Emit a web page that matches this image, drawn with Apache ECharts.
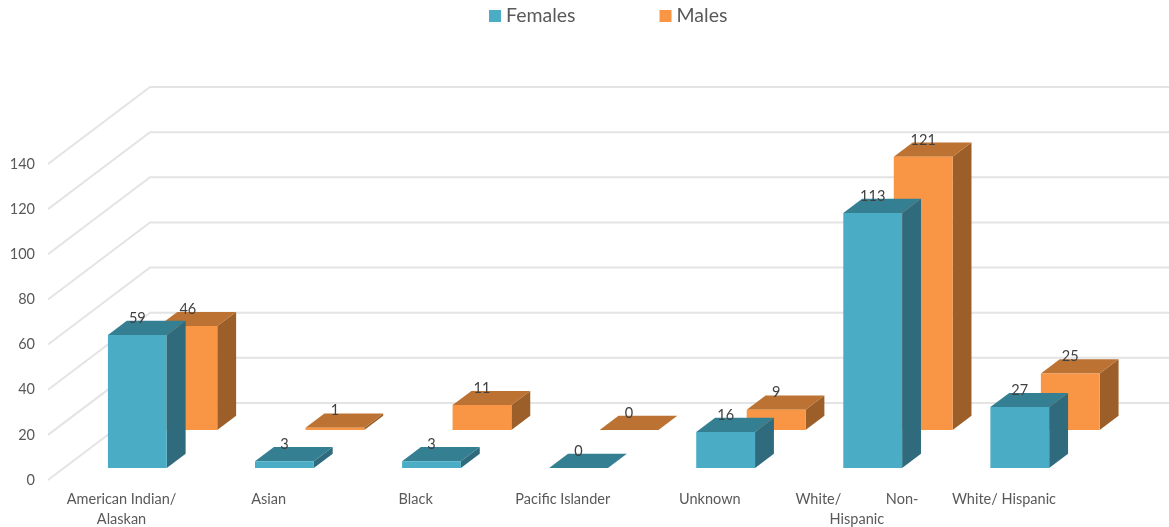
<!DOCTYPE html>
<html>
<head>
<meta charset="utf-8">
<style>html,body{margin:0;padding:0;background:#fff}#c{width:1169px;height:527px}</style>
<script src="https://cdn.jsdelivr.net/npm/echarts@6/dist/echarts.min.js"></script>
</head>
<body>
<div id="c"></div>
<script>
var categories = ['American Indian/\nAlaskan', 'Asian', 'Black', 'Pacific Islander', 'Unknown', 'White/            Non-\nHispanic', 'White/ Hispanic'];
var females = [59, 3, 3, 0, 16, 113, 27];
var males = [46, 1, 11, 0, 9, 121, 25];
var yTicks = [0, 20, 40, 60, 80, 100, 120, 140];

var DEPTH_X = 102, DEPTH_Y = -77;
var FONT = 'Lato, "Open Sans", sans-serif';

function bar3d(d0, d1, colors) {
  return function (params, api) {
    var p = api.coord([api.value(0), api.value(1)]);
    var base = api.coord([api.value(0), 0]);
    var band = api.size([1, 0])[0];
    var w = band * 0.4;
    var ox = DEPTH_X * d0, oy = DEPTH_Y * d0;
    var dx = DEPTH_X * (d1 - d0), dy = DEPTH_Y * (d1 - d0);
    var l = p[0] + ox - w / 2, r = l + w;
    var t = p[1] + oy, b = base[1] + oy;
    return {
      type: 'group',
      children: [
        { type: 'polygon', shape: { points: [[r, t], [r + dx, t + dy], [r + dx, b + dy], [r, b]] },
          style: { fill: colors.side } },
        { type: 'polygon', shape: { points: [[l, t], [l + dx, t + dy], [r + dx, t + dy], [r, t]] },
          style: { fill: colors.top } },
        { type: 'rect', shape: { x: l, y: t, width: w, height: b - t },
          style: { fill: colors.front } },
        { type: 'text', x: (l + r) / 2, y: t - 17, z2: 10,
          style: { text: String(api.value(1)), align: 'center', verticalAlign: 'middle',
                   fill: '#404040', font: '14.5px ' + FONT } }
      ]
    };
  };
}

function wall(params, api) {
  var y = api.coord([0, api.value(1)])[1];
  var x0 = params.coordSys.x;
  var x1 = x0 + params.coordSys.width;
  return {
    type: 'polyline',
    shape: { points: [[x0, y], [x0 + DEPTH_X, y + DEPTH_Y], [x1 + DEPTH_X, y + DEPTH_Y]] },
    style: { fill: null, stroke: '#E4E4E4', lineWidth: 2 }
  };
}

function pairs(values) { return values.map(function (v, i) { return [i, v]; }); }

var femaleColors = { front: '#4BACC6', side: '#2F6B7C', top: '#357F93' };
var maleColors = { front: '#F99645', side: '#9C5F29', top: '#BC7232' };

var chart = echarts.init(document.getElementById('c'), null, { renderer: 'canvas' });
chart.setOption({
  animation: false,
  backgroundColor: '#ffffff',
  legend: {
    data: ['Females', 'Males'],
    left: 484, top: 1,
    icon: 'rect', itemWidth: 12, itemHeight: 12, itemGap: 84,
    textStyle: { fontFamily: FONT, fontSize: 19.5, color: '#595959' }
  },
  grid: { left: 48, right: 91.5, top: 164, bottom: 47, outerBoundsMode: 'none' },
  xAxis: {
    type: 'category',
    data: categories,
    axisLine: { show: false },
    axisTick: { show: false },
    axisLabel: { interval: 0, margin: 9, fontFamily: FONT, fontSize: 14.5, color: '#595959', lineHeight: 20, verticalAlign: 'top' }
  },
  yAxis: {
    type: 'value', min: 0, max: 140, interval: 20,
    axisLine: { show: false },
    axisTick: { show: false },
    splitLine: { show: false },
    axisLabel: { margin: 13, fontFamily: FONT, fontSize: 14.5, color: '#595959' }
  },
  series: [
    { name: 'wall', type: 'custom', silent: true, z: 1, renderItem: wall,
      data: yTicks.map(function (t) { return [0, t]; }), encode: { x: 0, y: 1 } },
    { name: 'Males', type: 'custom', z: 2, renderItem: bar3d(0.65, 0.835, maleColors),
      itemStyle: { color: maleColors.front }, data: pairs(males), encode: { x: 0, y: 1 } },
    { name: 'Females', type: 'custom', z: 3, renderItem: bar3d(0.155, 0.34, femaleColors),
      itemStyle: { color: femaleColors.front }, data: pairs(females), encode: { x: 0, y: 1 } }
  ]
});
</script>
</body>
</html>
